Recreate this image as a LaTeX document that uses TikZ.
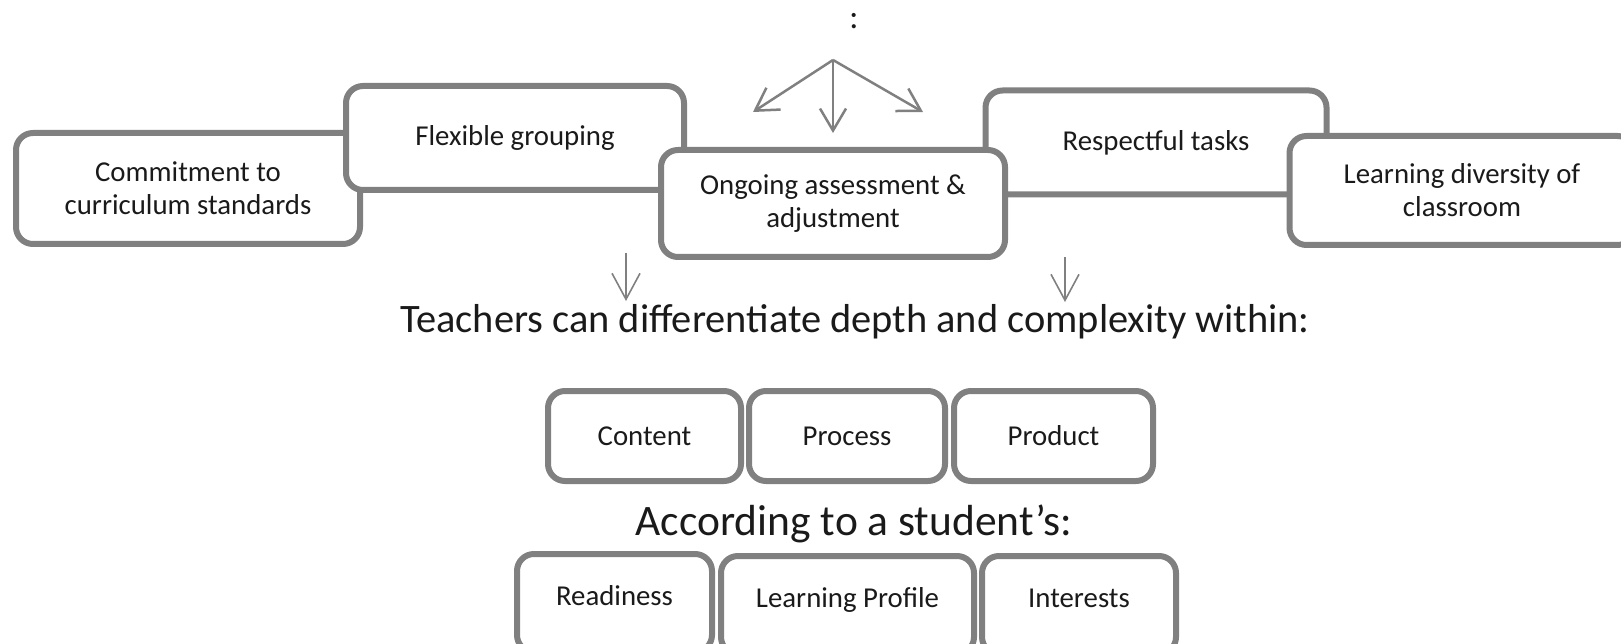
\documentclass[tikz,border=0pt]{standalone}
\usepackage{fontspec}
\setmainfont{Carlito}
\usetikzlibrary{arrows.meta}
\definecolor{bordergray}{HTML}{808080}
\definecolor{textdark}{HTML}{1A1A1A}
\tikzset{
  roundbox/.style={draw=bordergray, line width=6pt, rounded corners=17pt, fill=white,
    text=textdark, align=center, font=\fontsize{28.8}{33}\selectfont, inner sep=0pt},
  lowbox/.style={roundbox, text height=20pt, text depth=15pt},
  bigarrow/.style={draw=bordergray, line width=2.5pt,
    -{Straight Barb[length=22pt,width=26pt,line width=2.5pt]}},
  smallarrow/.style={draw=bordergray, line width=1.6pt,
    -{Straight Barb[length=26pt,width=28pt,line width=1.6pt]}},
  heading/.style={text=textdark, anchor=base, inner sep=0pt}
}
\begin{document}
\begin{tikzpicture}[x=1pt,y=-1pt]
\useasboundingbox (0,0) rectangle (1621,644);
% colon at top
\node[heading, font=\fontsize{34}{40}\selectfont] (colon) at (854,29) {:};
% fan arrows
\coordinate (o) at (833,60);
\coordinate (tl) at (753,112);
\coordinate (td) at (833,133);
\coordinate (tr) at (923,112);
\draw[bigarrow] (o) -- (tl);
\draw[bigarrow] (o) -- (td);
\draw[bigarrow] (o) -- (tr);
% top row boxes (draw order matters)
\node[roundbox, minimum width=344pt, minimum height=111pt] (commit) at (188,188.5) {Commitment to\\curriculum standards};
\node[roundbox, minimum width=341pt, minimum height=104pt] (resp) at (1156,142.5) {Respectful tasks};
\node[roundbox, minimum width=338pt, minimum height=104pt] (flex) at (515,138) {Flexible grouping};
\node[roundbox, minimum width=344pt, minimum height=107pt] (ongo) at (833,203.5) {Ongoing assessment \&\\adjustment};
\node[roundbox, minimum width=345pt, minimum height=109pt] (learn) at (1462,190.5) {Learning diversity of\\classroom};
% small arrows
\coordinate (a1s) at (626,253);
\coordinate (a1e) at (626,301);
\coordinate (a2s) at (1065,257);
\coordinate (a2e) at (1065,302);
\draw[smallarrow] (a1s) -- (a1e);
\draw[smallarrow] (a2s) -- (a2e);
% heading 1
\node[heading, font=\fontsize{40.4}{48}\selectfont] (teach) at (855,332) {Teachers can differentiate depth and complexity within:};
% middle row
\node[roundbox, minimum width=193pt, minimum height=90pt] (content) at (644.5,436) {Content};
\node[roundbox, minimum width=196pt, minimum height=90pt] (process) at (847,436) {Process};
\node[roundbox, minimum width=199pt, minimum height=90pt] (product) at (1053.5,436) {Product};
% heading 2
\node[heading, font=\fontsize{43.5}{50}\selectfont] (accord) at (854,535) {According to a student’s:};
% bottom row
\node[lowbox, minimum width=195pt, minimum height=98pt] (ready) at (614.5,603) {Readiness};
\node[lowbox, minimum width=253pt, minimum height=98pt] (profile) at (847.5,605) {Learning Profile};
\node[lowbox, minimum width=194pt, minimum height=98pt] (interest) at (1079,605) {Interests};
\end{tikzpicture}
\end{document}
